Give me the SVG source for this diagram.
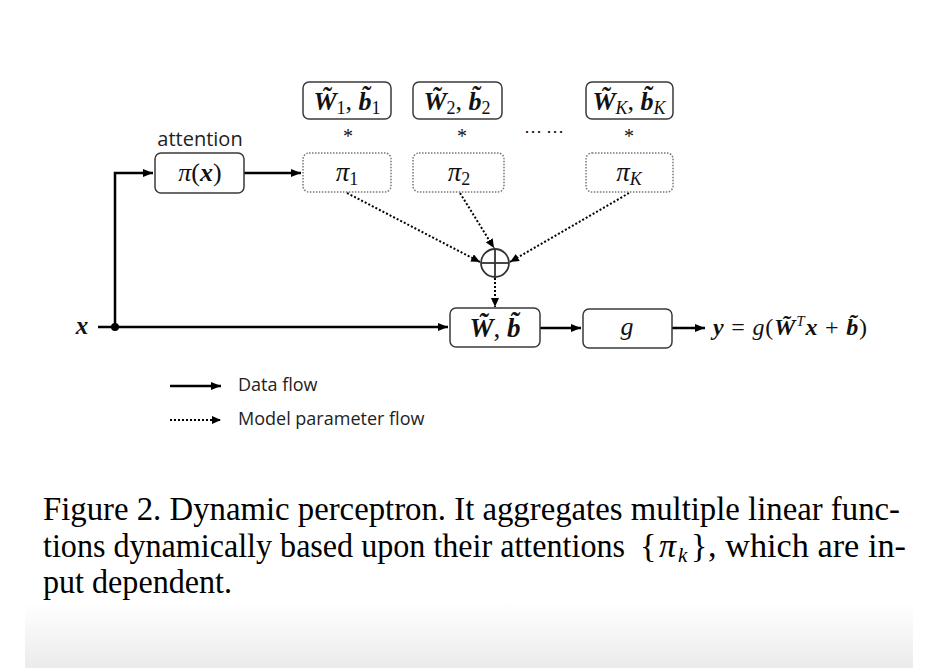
<svg xmlns="http://www.w3.org/2000/svg" width="942" height="668" viewBox="0 0 942 668">
<defs>
<marker id="arr" markerUnits="userSpaceOnUse" markerWidth="10" markerHeight="8" refX="10" refY="4" orient="auto"><path d="M0,0 L10,4 L0,8 z" fill="#000"/></marker>
<marker id="arrs" markerUnits="userSpaceOnUse" markerWidth="9" markerHeight="8" refX="9" refY="4" orient="auto"><path d="M0,0 L9,4 L0,8 z" fill="#000"/></marker>
<linearGradient id="fade" x1="0" y1="0" x2="0" y2="1"><stop offset="0" stop-color="#ffffff"/><stop offset="1" stop-color="#ebebeb"/></linearGradient>
<style>
.box{fill:#fff;stroke:#3a3a3a;stroke-width:1.5}
.dbox{fill:#fff;stroke:#777;stroke-width:1.5;stroke-dasharray:1.5 1.5}
.solid{fill:none;stroke:#000;stroke-width:2.5}
.dot{fill:none;stroke:#000;stroke-width:2;stroke-dasharray:2 2}
.m{font-family:"Liberation Serif","DejaVu Serif",serif;fill:#111}
.bi{font-weight:bold;font-style:italic}
.it{font-style:italic}
.sans{font-family:"Open Sans","Noto Sans","Liberation Sans",sans-serif;fill:#222}
.cap{font-family:"Liberation Serif","Times New Roman",serif;font-size:34px;fill:#000}
</style>
</defs>
<rect width="942" height="668" fill="#fff"/>
<rect x="25" y="603" width="888" height="65" fill="url(#fade)"/>

<g id="connectors">
<polyline class="solid" points="115,327 115,173 153,173" marker-end="url(#arr)"/>
<line class="solid" x1="98" y1="327" x2="448" y2="327" marker-end="url(#arr)"/>
<line class="solid" x1="244" y1="173" x2="301" y2="173" marker-end="url(#arr)"/>
<line class="solid" x1="540" y1="328" x2="581" y2="328" marker-end="url(#arr)"/>
<line class="solid" x1="672" y1="328" x2="705" y2="328" marker-end="url(#arr)"/>
<circle cx="115" cy="327" r="4" fill="#000"/>
<line class="dot" x1="347" y1="193" x2="480" y2="262" marker-end="url(#arrs)"/>
<line class="dot" x1="460" y1="193" x2="494" y2="248" marker-end="url(#arrs)"/>
<line class="dot" x1="629" y1="193" x2="510" y2="262" marker-end="url(#arrs)"/>
<line class="dot" x1="495" y1="278" x2="495" y2="307" marker-end="url(#arrs)"/>
</g>

<g id="input-x"><text class="m bi" x="82" y="334" font-size="25" text-anchor="middle">x</text></g>

<g id="attention">
<text class="sans" x="200" y="146" font-size="20" text-anchor="middle">attention</text>
<rect class="box" x="155" y="153" width="89" height="40" rx="6"/>
<text class="m" x="200" y="181" font-size="26" text-anchor="middle"><tspan class="it">π</tspan>(<tspan class="bi">x</tspan>)</text>
</g>

<g id="wb1">
<rect class="box" x="303" y="82" width="88" height="37" rx="6"/>
<text class="m" x="347" y="110" font-size="26" text-anchor="middle"><tspan class="bi">W̃</tspan><tspan font-size="18" dy="4">1</tspan><tspan dy="-4">, </tspan><tspan class="bi">b̃</tspan><tspan font-size="18" dy="4">1</tspan></text>
</g>
<g id="wb2">
<rect class="box" x="413" y="82" width="89" height="37" rx="6"/>
<text class="m" x="457" y="110" font-size="26" text-anchor="middle"><tspan class="bi">W̃</tspan><tspan font-size="18" dy="4">2</tspan><tspan dy="-4">, </tspan><tspan class="bi">b̃</tspan><tspan font-size="18" dy="4">2</tspan></text>
</g>
<g id="wbK">
<rect class="box" x="586" y="82" width="87" height="37" rx="6"/>
<text class="m" x="629" y="110" font-size="26" text-anchor="middle"><tspan class="bi">W̃</tspan><tspan class="it" font-size="18" dy="4">K</tspan><tspan dy="-4">, </tspan><tspan class="bi">b̃</tspan><tspan class="it" font-size="18" dy="4">K</tspan></text>
</g>

<g id="stars" class="m" font-size="20">
<text x="348" y="143" text-anchor="middle">*</text>
<text x="462" y="143" text-anchor="middle">*</text>
<text x="629" y="143" text-anchor="middle">*</text>
<text x="544" y="137" text-anchor="middle" font-size="18">⋯ ⋯</text>
</g>

<g id="pi1">
<rect class="dbox" x="303" y="153" width="88" height="39" rx="6"/>
<text class="m" x="347" y="181" font-size="27" text-anchor="middle"><tspan class="it">π</tspan><tspan font-size="18" dy="4">1</tspan></text>
</g>
<g id="pi2">
<rect class="dbox" x="413" y="153" width="91" height="39" rx="6"/>
<text class="m" x="459" y="181" font-size="27" text-anchor="middle"><tspan class="it">π</tspan><tspan font-size="18" dy="4">2</tspan></text>
</g>
<g id="piK">
<rect class="dbox" x="586" y="153" width="87" height="39" rx="6"/>
<text class="m" x="629" y="181" font-size="27" text-anchor="middle"><tspan class="it">π</tspan><tspan class="it" font-size="18" dy="4">K</tspan></text>
</g>

<g id="sum">
<circle cx="495" cy="263" r="14" fill="#fff" stroke="#333" stroke-width="1.8"/>
<line x1="481" y1="263" x2="509" y2="263" stroke="#333" stroke-width="1.8"/>
<line x1="495" y1="249" x2="495" y2="277" stroke="#333" stroke-width="1.8"/>
</g>

<g id="wb">
<rect class="box" x="450" y="308" width="90" height="39" rx="6"/>
<text class="m" x="495" y="337" font-size="27" text-anchor="middle"><tspan class="bi">W̃</tspan>, <tspan class="bi">b̃</tspan></text>
</g>

<g id="g">
<rect class="box" x="583" y="309" width="89" height="39" rx="6"/>
<text class="m it" x="627" y="335" font-size="26" text-anchor="middle">g</text>
</g>

<g id="output">
<text class="m" x="713" y="335" font-size="24" textLength="154" lengthAdjust="spacing"><tspan class="bi">y</tspan> = <tspan class="it">g</tspan>(<tspan class="bi">W̃</tspan><tspan class="it" font-size="15" dy="-9">T</tspan><tspan class="bi" dy="9">x</tspan> + <tspan class="bi">b̃</tspan>)</text>
</g>

<g id="legend">
<line class="solid" x1="170" y1="386" x2="221" y2="386" marker-end="url(#arr)"/>
<text class="sans" x="238" y="391" font-size="18">Data flow</text>
<line class="dot" x1="170" y1="420" x2="221" y2="420" stroke-width="1.5" stroke-dasharray="1.5 1.5" marker-end="url(#arrs)"/>
<text class="sans" x="238" y="425" font-size="18">Model parameter flow</text>
</g>

<g id="caption">
<text class="cap" x="43" y="520" textLength="857" lengthAdjust="spacingAndGlyphs">Figure 2. Dynamic perceptron. It aggregates multiple linear func-</text>
<text class="cap" x="43" y="557" font-size="32" textLength="582" lengthAdjust="spacingAndGlyphs">tions dynamically based upon their attentions</text>
<text class="cap" y="557"><tspan x="640">{</tspan><tspan x="659" font-style="italic">π</tspan><tspan x="678" font-style="italic" font-size="21" dy="5">k</tspan><tspan x="691" dy="-5">}</tspan></text>
<text class="cap" x="708" y="557" textLength="198" lengthAdjust="spacingAndGlyphs">, which are in-</text>
<text class="cap" x="43" y="593" textLength="189" lengthAdjust="spacingAndGlyphs">put dependent.</text>
</g>
</svg>
